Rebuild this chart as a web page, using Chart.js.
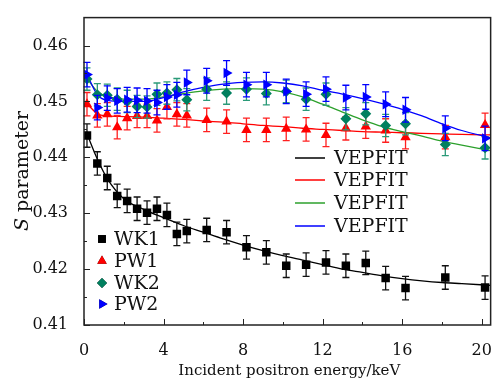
<!DOCTYPE html>
<html>
<head>
<meta charset="utf-8">
<script src="https://cdn.jsdelivr.net/npm/chart.js@4"></script>
<style>
  html, body { margin: 0; padding: 0; background: #fff; }
  #wrap { width: 500px; height: 385px; }
</style>
</head>
<body>
<div id="wrap"><canvas id="grafico" width="500" height="385"></canvas></div>
<script>
// energie di impianto (keV)
var energy = [0.15, 0.67, 1.17, 1.67, 2.17, 2.67, 3.17, 3.67, 4.17, 4.67, 5.17, 6.17,
              7.17, 8.17, 9.17, 10.17, 11.17, 12.17, 13.17, 14.17, 15.17, 16.17, 18.17, 20.17];

// parametro S misurato
var wk1 = [0.4439, 0.4389, 0.4363, 0.4331, 0.4322, 0.4308, 0.4301, 0.4308, 0.4297, 0.4263, 0.4268, 0.4270,
           0.4266, 0.4239, 0.4230, 0.4206, 0.4208, 0.4212, 0.4206, 0.4211, 0.4184, 0.4166, 0.4185, 0.4167];
var pw1 = [0.4495, 0.4475, 0.4477, 0.4454, 0.4470, 0.4474, 0.4474, 0.4466, 0.4490, 0.4477, 0.4475, 0.4467,
           0.4464, 0.4449, 0.4449, 0.4451, 0.4450, 0.4440, 0.4452, 0.4455, 0.4448, 0.4436, 0.4436, 0.4458];
var wk2 = [0.4540, 0.4512, 0.4511, 0.4504, 0.4500, 0.4491, 0.4490, 0.4513, 0.4515, 0.4521, 0.4503, 0.4522,
           0.4515, 0.4522, 0.4514, 0.4518, 0.4504, 0.4513, 0.4469, 0.4478, 0.4457, 0.4460, 0.4423, 0.4417];
var pw2 = [0.4548, 0.4489, 0.4506, 0.4501, 0.4503, 0.4502, 0.4501, 0.4498, 0.4508, 0.4512, 0.4534, 0.4537,
           0.4551, 0.4530, 0.4530, 0.4518, 0.4513, 0.4522, 0.4507, 0.4508, 0.4495, 0.4485, 0.4452, 0.4434];

// barre d'errore (semi-ampiezza)
var errWk1 = 0.0021, errPw1 = 0.0021, errWk2 = 0.0020, errPw2 = 0.0022;

// curve VEPFIT
var fitE = [0.15, 0.67, 1.17, 2, 3, 4, 5, 6, 7, 8, 9, 10, 11, 12, 13, 14, 15, 16, 17, 18, 19, 20.45];
var fitWk1 = [0.4442, 0.4397, 0.4362, 0.4326, 0.4307, 0.4292, 0.4278, 0.4266, 0.4254, 0.4243, 0.4233,
              0.4224, 0.4216, 0.4208, 0.4200, 0.4194, 0.4188, 0.4183, 0.4179, 0.4176, 0.4174, 0.4171];
var fitPw1 = [0.4496, 0.4478, 0.4474, 0.4473, 0.4472, 0.4470, 0.4468, 0.4465, 0.4463, 0.4460, 0.4457,
              0.4455, 0.4452, 0.4450, 0.4448, 0.4446, 0.4445, 0.4444, 0.4443, 0.4442, 0.4441, 0.4440];
var fitWk2 = [0.4541, 0.4518, 0.4509, 0.4504, 0.4504, 0.4508, 0.4514, 0.4519, 0.4522, 0.4523, 0.4522,
              0.4517, 0.4508, 0.4495, 0.4481, 0.4467, 0.4455, 0.4446, 0.4438, 0.4429, 0.4422, 0.4412];
var fitPw2 = [0.4548, 0.4512, 0.4502, 0.4500, 0.4500, 0.4507, 0.4517, 0.4525, 0.4531, 0.4534, 0.4535,
              0.4533, 0.4528, 0.4520, 0.4513, 0.4505, 0.4496, 0.4486, 0.4474, 0.4460, 0.4448, 0.4435];

var xTicks = [0, 4, 8, 12, 16, 20];
var yTicks = [0.41, 0.42, 0.43, 0.44, 0.45, 0.46];

var FONT = "'DejaVu Serif', serif";

function punti(xs, ys) {
    var out = [];
    for (var i = 0; i < xs.length; i++) out.push({ x: xs[i], y: ys[i] });
    return out;
}

function serieMisura(label, ys, err, color, barColor, style, radius, rot) {
    return {
        type: 'scatter', label: label, data: punti(energy, ys), err: err, barColor: barColor,
        backgroundColor: color, borderColor: color, borderWidth: 0,
        pointStyle: style, pointRadius: radius, pointRotation: rot || 0, showLine: false
    };
}

function serieFit(ys, color) {
    return {
        type: 'line', label: 'VEPFIT', fit: true, data: punti(fitE, ys),
        borderColor: color, backgroundColor: color, borderWidth: 1.3,
        pointRadius: 0, cubicInterpolationMode: 'monotone', fill: false
    };
}

// indice 0 disegnato sopra
var datasets = [
    serieMisura('PW2', pw2, errPw2, '#0000ff', '#0000ff', 'triangle', 6, 90),
    serieMisura('WK2', wk2, errWk2, '#00805f', '#2a9a78', 'rectRot', 5.5),
    serieMisura('PW1', pw1, errPw1, '#ff0000', '#ff2020', 'triangle', 6),
    serieMisura('WK1', wk1, errWk1, '#000000', '#111111', 'rect', 6),
    serieFit(fitPw2, '#0000ff'),
    serieFit(fitWk2, '#2ca02c'),
    serieFit(fitPw1, '#ff0000'),
    serieFit(fitWk1, '#000000')
];

// barre d'errore, disegnate prima dei marcatori di ogni serie
var erroriPlugin = {
    id: 'errori',
    beforeDatasetDraw: function(chart, args) {
        var ds = chart.data.datasets[args.index];
        if (!ds.err) return;
        var ctx = chart.ctx, xs = chart.scales.x, ys = chart.scales.y;
        ctx.save();
        ctx.strokeStyle = ds.barColor;
        ctx.lineWidth = 1.3;
        ds.data.forEach(function(p) {
            var px = xs.getPixelForValue(p.x);
            var y1 = ys.getPixelForValue(p.y + ds.err);
            var y2 = ys.getPixelForValue(p.y - ds.err);
            ctx.beginPath();
            ctx.moveTo(px, y1); ctx.lineTo(px, y2);
            ctx.moveTo(px - 3.5, y1); ctx.lineTo(px + 3.5, y1);
            ctx.moveTo(px - 3.5, y2); ctx.lineTo(px + 3.5, y2);
            ctx.stroke();
        });
        ctx.restore();
    }
};

// cornice, tacche interne, titoli e legende
var cornicePlugin = {
    id: 'cornice',
    afterDraw: function(chart) {
        var ctx = chart.ctx, a = chart.chartArea, xs = chart.scales.x, ys = chart.scales.y;
        ctx.save();
        ctx.strokeStyle = '#222';
        ctx.lineWidth = 1.5;
        ctx.strokeRect(a.left, a.top, a.right - a.left, a.bottom - a.top);

        ctx.lineWidth = 1;
        ctx.beginPath();
        for (var v = 0; v <= 20; v += 2) {
            var px = Math.round(xs.getPixelForValue(v)) + 0.5;
            var len = (v % 4 === 0) ? 6 : 3;
            ctx.moveTo(px, a.bottom); ctx.lineTo(px, a.bottom - len);
        }
        for (var k = 0; k <= 10; k++) {
            var val = 0.41 + k * 0.005;
            var py = Math.round(ys.getPixelForValue(val)) + 0.5;
            var l2 = (k % 2 === 0) ? 6 : 3;
            ctx.moveTo(a.left, py); ctx.lineTo(a.left + l2, py);
        }
        ctx.stroke();

        // titoli assi
        ctx.fillStyle = '#111';
        ctx.font = "15px " + FONT;
        ctx.textAlign = 'center';
        ctx.textBaseline = 'middle';
        ctx.fillText('Incident positron energy/keV', (a.left + a.right) / 2 + 2, 371);

        ctx.save();
        ctx.translate(23, 171);
        ctx.rotate(-Math.PI / 2);
        ctx.font = "italic 19px " + FONT;
        var wS = ctx.measureText('S').width;
        ctx.font = "19px " + FONT;
        var wR = ctx.measureText(' parameter').width;
        var x0 = -(wS + wR) / 2;
        ctx.textAlign = 'left';
        ctx.font = "italic 19px " + FONT;
        ctx.fillText('S', x0, 0);
        ctx.font = "19px " + FONT;
        ctx.fillText(' parameter', x0 + wS, 0);
        ctx.restore();

        // legenda VEPFIT
        var fits = chart.data.datasets.filter(function(d) { return d.fit; }).reverse();
        var fy = [158, 180, 203, 226];
        ctx.font = "19px " + FONT;
        ctx.textAlign = 'left';
        fits.forEach(function(d, i) {
            ctx.strokeStyle = d.borderColor;
            ctx.lineWidth = 1.5;
            ctx.beginPath();
            ctx.moveTo(295, fy[i]); ctx.lineTo(325, fy[i]);
            ctx.stroke();
            ctx.fillStyle = '#111';
            ctx.fillText(d.label, 334, fy[i] + 1);
        });

        // legenda misure
        var mis = chart.data.datasets.filter(function(d) { return d.err; }).reverse();
        var my = [239, 261, 283, 304];
        mis.forEach(function(d, i) {
            Chart.helpers.drawPoint(ctx, {
                pointStyle: d.pointStyle, radius: d.pointRadius - 0.5, rotation: d.pointRotation,
                borderWidth: 0
            }, 102, my[i]);
            ctx.fillStyle = d.backgroundColor;
            ctx.fill();
            ctx.fillStyle = '#111';
            ctx.fillText(d.label, 114, my[i] + 1);
        });
        ctx.restore();
    }
};

var config = {
    data: { datasets: datasets },
    options: {
        responsive: false,
        animation: false,
        layout: { padding: { top: 7, right: 1, left: 0, bottom: 0 } },
        plugins: { legend: { display: false }, tooltip: { enabled: false } },
        scales: {
            x: {
                type: 'linear', min: 0, max: 20.45,
                grid: { display: false }, border: { display: false },
                afterFit: function(s) { s.height = 60; },
                afterBuildTicks: function(s) { s.ticks = xTicks.map(function(v) { return { value: v }; }); },
                ticks: { color: '#111', padding: 8, font: { family: FONT, size: 16 }, maxRotation: 0,
                         callback: function(v) { return String(v); } }
            },
            y: {
                type: 'linear', min: 0.41, max: 0.465,
                grid: { display: false }, border: { display: false },
                afterFit: function(s) { s.width = 84; },
                afterBuildTicks: function(s) { s.ticks = yTicks.map(function(v) { return { value: v }; }); },
                ticks: { color: '#111', padding: 8, font: { family: FONT, size: 16 },
                         callback: function(v) { return v.toFixed(2); } }
            }
        }
    },
    plugins: [erroriPlugin, cornicePlugin]
};

var ctx = document.getElementById('grafico');
window.grafico = new Chart(ctx, config);
</script>
</body>
</html>
